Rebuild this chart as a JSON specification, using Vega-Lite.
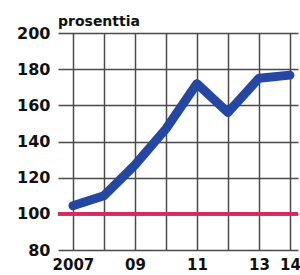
{
  "$schema": "https://vega.github.io/schema/vega-lite/v6.json",
  "width": 240,
  "height": 217,
  "autosize": "none",
  "padding": {"left": 58, "top": 33, "right": 2, "bottom": 25},
  "background": "white",
  "title": {"text": "prosenttia", "anchor": "start", "frame": "group", "font": "DejaVu Sans", "fontSize": 14, "fontWeight": "bold", "color": "#111", "baseline": "bottom", "offset": -18},
  "config": {"view": {"stroke": null}},
  "data": {"values": [
    {"year": 2007, "value": 104.5},
    {"year": 2008, "value": 110},
    {"year": 2009, "value": 127},
    {"year": 2010, "value": 147},
    {"year": 2011, "value": 172},
    {"year": 2012, "value": 156},
    {"year": 2013, "value": 175},
    {"year": 2014, "value": 176.7}
  ]},
  "layer": [
    {
      "mark": {"type": "line", "color": "#2347a3", "strokeWidth": 9, "strokeCap": "round", "strokeJoin": "round"},
      "encoding": {
        "x": {"field": "year", "type": "quantitative", "scale": {"domain": [2006.52, 2014.26], "nice": false, "zero": false},
          "axis": {"values": [2007, 2008, 2009, 2010, 2011, 2012, 2013, 2014], "title": null, "domain": false, "ticks": false,
            "labelExpr": "datum.value == 2007 ? '2007' : (datum.value == 2009 || datum.value == 2011 || datum.value == 2013 || datum.value == 2014) ? slice(toString(datum.value), 2) : ''",
            "labelFont": "DejaVu Sans", "labelFontSize": 15, "labelFontWeight": "bold", "labelColor": "#111", "labelPadding": 7, "labelOverlap": false, "labelFlush": false,
            "grid": true, "gridColor": "#4a4a4a", "gridWidth": 1.5}},
        "y": {"field": "value", "type": "quantitative", "scale": {"domain": [80, 200], "nice": false, "zero": false},
          "axis": {"values": [80, 100, 120, 140, 160, 180, 200], "title": null, "domain": false, "ticks": false, "labelOverlap": false,
            "labelFont": "DejaVu Sans", "labelFontSize": 16, "labelFontWeight": "bold", "labelColor": "#111", "labelPadding": 8,
            "grid": true, "gridColor": "#4a4a4a", "gridWidth": 1.5}}
      }
    },
    {
      "mark": {"type": "rule", "color": "#d42a5c", "strokeWidth": 3},
      "encoding": {"y": {"datum": 100, "type": "quantitative", "scale": {"domain": [80, 200], "nice": false, "zero": false},
          "axis": {"values": [80, 100, 120, 140, 160, 180, 200], "title": null, "domain": false, "ticks": false, "labelOverlap": false,
            "labelFont": "DejaVu Sans", "labelFontSize": 16, "labelFontWeight": "bold", "labelColor": "#111", "labelPadding": 8,
            "grid": true, "gridColor": "#4a4a4a", "gridWidth": 1.5}}}
    }
  ]
}
